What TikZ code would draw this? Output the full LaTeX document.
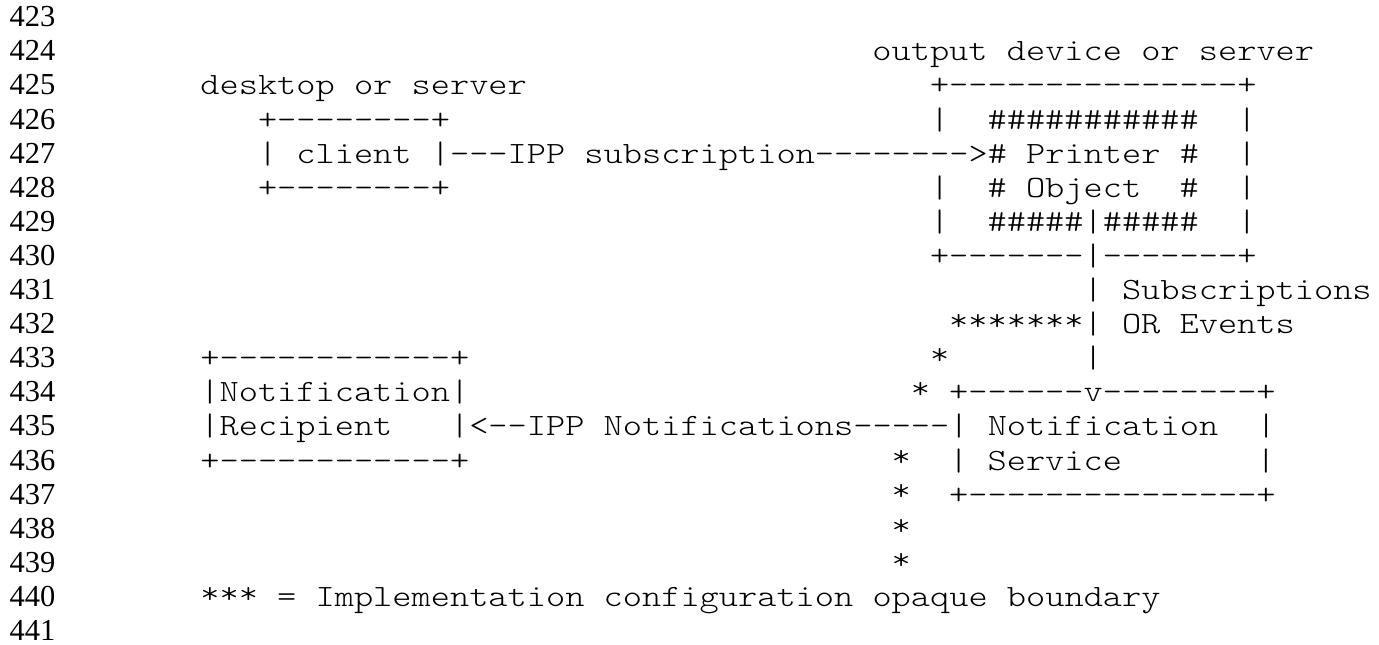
\documentclass[tikz,border=0pt]{standalone}
\usepackage{fontspec}
\setmainfont{Liberation Serif}
\setmonofont[FakeStretch=1.18]{Latin Modern Mono Light}
\usepackage{tikz}

\begin{document}
\begin{tikzpicture}[x=9.6pt,y=-17.05pt,
        txt/.style={anchor=base west,inner sep=0pt,font=\ttfamily\fontsize{15.5}{17}\selectfont},
        star/.style={txt,yshift=1.6pt},
        num/.style={anchor=base west,inner sep=0pt,font=\fontsize{15.25}{17}\selectfont}]
    \useasboundingbox (-100pt,13.35pt) rectangle (589.5pt,-308.65pt);
    % line numbers
    \foreach \i [evaluate=\i as \n using int(423+\i)] in {0,...,18}
        \node[num] (n\i) at (-9.93,\i) {\n};
    % client side
    \node[txt] (desklbl) at (0,2) {desktop or server};
    \node[txt] (ctop) at (3,3) {+--------+};
    \node[txt] (cmid) at (3,4) {| client |---IPP subscription-------->\# Printer \#~~|};
    \node[txt] (cbot) at (3,5) {+--------+};
    % printer box
    \node[txt] (outlbl) at (35,1) {output device or server};
    \node[txt] (ptop) at (38,2) {+---------------+};
    \node[txt] (p1) at (38,3) {|~~\#\#\#\#\#\#\#\#\#\#\#~~|};
    \node[txt] (p3) at (38,5) {|~~\# Object~~\#~~|};
    \node[txt] (p4) at (38,6) {|~~\#\#\#\#\#|\#\#\#\#\#~~|};
    \node[txt] (pbot) at (38,7) {+-------|-------+};
    \node[txt] (vl8) at (46,8) {|};
    \node[txt] (sublbl) at (48,8) {Subscriptions};
    \node[star] (s9) at (39,9) {*******};
    \node[txt] (vl9) at (46,9) {|};
    \node[txt] (evlbl) at (48,9) {OR Events};
    \node[star] (s10) at (38,10) {*};
    \node[txt] (vl10) at (46,10) {|};
    % recipient and notification service
    \node[txt] (rtop) at (0,10) {+------------+};
    \node[txt] (r1) at (0,11) {|Notification|};
    \node[star] (s11) at (37,11) {*};
    \node[txt] (stop) at (39,11) {+------v--------+};
    \node[txt] (r2) at (0,12) {|Recipient~~~|<--IPP Notifications-----| Notification~~|};
    \node[txt] (rbot) at (0,13) {+------------+};
    \node[star] (s13) at (36,13) {*};
    \node[txt] (s2) at (39,13) {| Service~~~~~~~|};
    \node[star] (s14) at (36,14) {*};
    \node[txt] (sbot) at (39,14) {+---------------+};
    \node[star] (s15) at (36,15) {*};
    \node[star] (s16) at (36,16) {*};
    \node[star] (key) at (0,17) {***};
    \node[txt] (legend) at (3,17) {~= Implementation configuration opaque boundary};
\end{tikzpicture}
\end{document}
